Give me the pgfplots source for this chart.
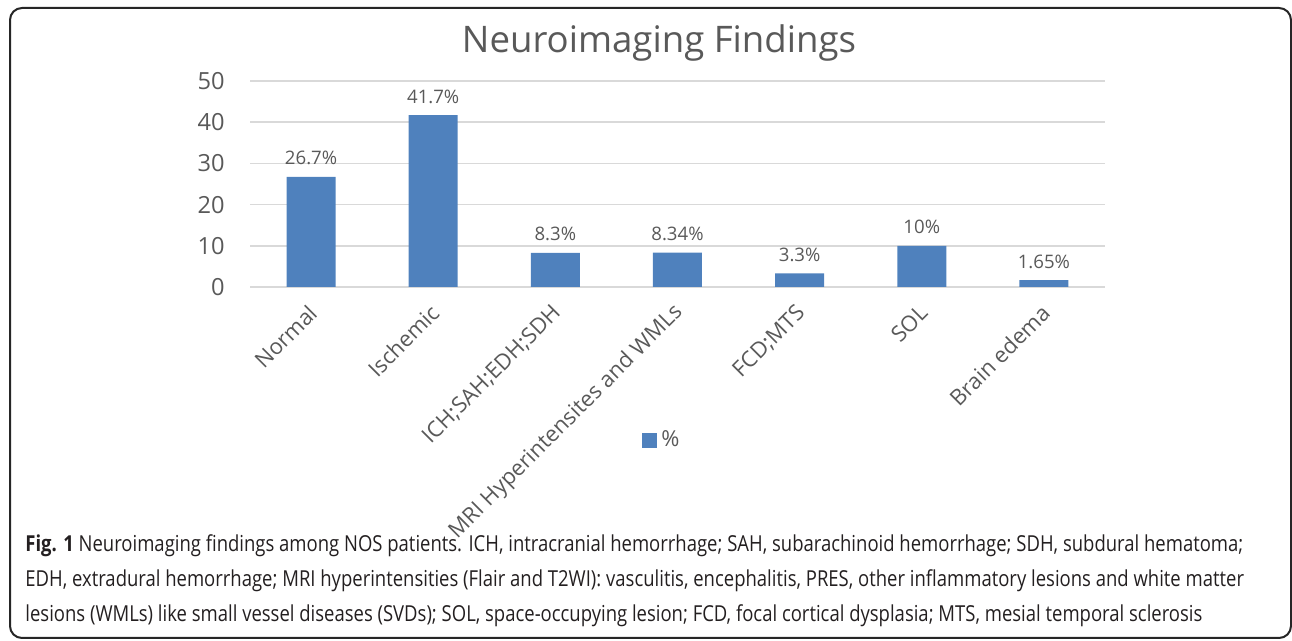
\documentclass[border=0pt]{standalone}
\usepackage{fontspec}
\setmainfont{Open Sans}
\newfontfamily\capfont[FakeStretch=0.84]{Open Sans}
\usepackage{pgfplots}
\pgfplotsset{compat=1.18}
\definecolor{barblue}{HTML}{4F81BD}
\definecolor{txtgray}{HTML}{595959}
\definecolor{gridgray}{HTML}{D9D9D9}
\definecolor{capcol}{HTML}{231F20}
\begin{document}
\begin{tikzpicture}
\useasboundingbox (0,0) rectangle (646pt,320.5pt);
\draw[line width=1pt,color=black!85,rounded corners=6pt] (5pt,1.5pt) rectangle (645.5pt,316.5pt);
\node[anchor=base,text=txtgray,font=\fontsize{18.3}{22}\selectfont] at (329.5pt,294pt) {Neuroimaging Findings};
\begin{axis}[
  at={(125pt,177pt)}, anchor=south west,
  scale only axis, width=427.5pt, height=103pt,
  xmin=-0.5, xmax=6.5, ymin=0, ymax=50,
  ytick={0,10,20,30,40,50},
  xtick=data,
  xticklabels={Normal,Ischemic,{ICH;SAH;EDH;SDH},{MRI Hyperintensites and WMLs},{FCD;MTS},SOL,{Brain edema}},
  axis line style={draw=none},
  major tick length=0pt,
  ymajorgrids, grid style={gridgray,line width=0.8pt},
  /pgf/number format/assume math mode=true,
  yticklabel style={text=txtgray,font=\fontsize{11.8}{14}\selectfont,anchor=east,inner sep=0pt,xshift=-12.5pt},
  xticklabel style={text=txtgray,font=\fontsize{11}{13}\selectfont,inner sep=0pt,xshift=1pt,yshift=-11pt,rotate=45,anchor=east},
  ybar, bar width=24.5pt,
  point meta=explicit symbolic,
  nodes near coords,
  nodes near coords style={text=txtgray,font=\fontsize{9.3}{11}\selectfont,anchor=base,inner sep=0pt,yshift=6pt},
  legend style={draw=none,at={(0.483,-0.743)},anchor=center,text=txtgray,font=\fontsize{11}{13}\selectfont,inner sep=0pt},
  legend image code/.code={\fill[#1] (0pt,-3.75pt) rectangle (7.5pt,3.75pt);},
]
\addplot[fill=barblue,draw=none] coordinates {
 (0,26.7) [26.7\%]
 (1,41.7) [41.7\%]
 (2,8.3) [8.3\%]
 (3,8.34) [8.34\%]
 (4,3.3) [3.3\%]
 (5,10) [10\%]
 (6,1.65) [1.65\%]
};
\addlegendentry{\%}
\end{axis}
\begin{scope}[every node/.style={anchor=base west,inner sep=0pt,text=capcol,font=\capfont\fontsize{11}{13}\selectfont}]
\node at (12.5pt,44.5pt) {\textbf{Fig. 1} Neuroimaging findings among NOS patients. ICH, intracranial hemorrhage; SAH, subarachinoid hemorrhage; SDH, subdural hematoma;};
\node at (12.5pt,27pt) {EDH, extradural hemorrhage; MRI hyperintensities (Flair and T2WI): vasculitis, encephalitis, PRES, other inflammatory lesions and white matter};
\node at (12.5pt,9.5pt) {lesions (WMLs) like small vessel diseases (SVDs); SOL, space-occupying lesion; FCD, focal cortical dysplasia; MTS, mesial temporal sclerosis};
\end{scope}
\end{tikzpicture}
\end{document}
